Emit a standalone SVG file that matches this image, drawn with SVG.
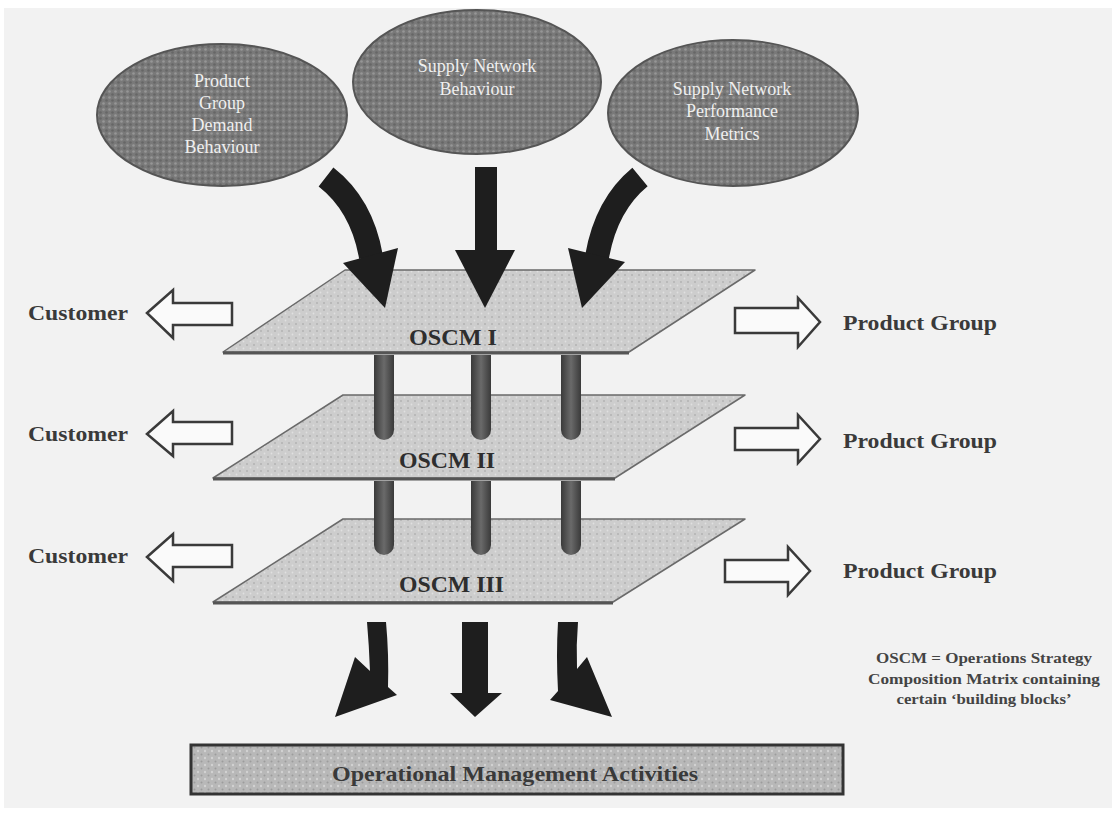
<svg xmlns="http://www.w3.org/2000/svg" width="1117" height="814" viewBox="0 0 1117 814">
  <defs>
    <pattern id="dotsDark" width="6" height="6" patternUnits="userSpaceOnUse">
      <rect width="6" height="6" fill="#797979"/>
      <circle cx="1.5" cy="1.5" r="1.3" fill="#969696"/>
      <circle cx="4.5" cy="4.5" r="1.3" fill="#666666"/>
    </pattern>
    <pattern id="dotsLight" width="7" height="7" patternUnits="userSpaceOnUse">
      <rect width="7" height="7" fill="#cdcdcd"/>
      <circle cx="2" cy="2" r="1" fill="#b2b2b2"/>
      <circle cx="5.5" cy="5.5" r="0.9" fill="#e0e0e0"/>
    </pattern>
    <pattern id="dotsMid" width="7" height="7" patternUnits="userSpaceOnUse">
      <rect width="7" height="7" fill="#b8b8b8"/>
      <circle cx="2" cy="2" r="1.2" fill="#d2d2d2"/>
      <circle cx="5.5" cy="5.5" r="1" fill="#9c9c9c"/>
    </pattern>
    <linearGradient id="pillar" x1="0" y1="0" x2="1" y2="0">
      <stop offset="0" stop-color="#3a3a3a"/>
      <stop offset="0.5" stop-color="#6a6a6a"/>
      <stop offset="1" stop-color="#3a3a3a"/>
    </linearGradient>
  </defs>
  <style>
    .ell { fill: url(#dotsDark); stroke: #555; stroke-width: 2; }
    .ellText { font-family: "Liberation Serif", "Times New Roman", serif; font-size: 18px; fill: #efefef; text-anchor: middle; }
    .plane { fill: url(#dotsLight); stroke: #6a6a6a; stroke-width: 1.5; stroke-linejoin: round; }
    .shadow { stroke: #555; stroke-width: 3; fill: none; }
    .planeText { font-family: "Liberation Serif", "Times New Roman", serif; font-weight: bold; font-size: 23px; fill: #2e2e2e; }
    .label { font-family: "Liberation Serif", "Times New Roman", serif; font-weight: bold; font-size: 22px; fill: #3a3a3a; }
    .hollow { fill: #fafafa; stroke: #3a3a3a; stroke-width: 2.5; stroke-linejoin: miter; }
    .solid { fill: #1e1e1e; }
    .shaft { fill: none; stroke: #1e1e1e; stroke-width: 24; }
    .pil { fill: url(#pillar); }
    .legend { font-family: "Liberation Serif", "Times New Roman", serif; font-weight: bold; font-size: 15px; fill: #444; text-anchor: middle; }
  </style>

  <rect x="0" y="0" width="1117" height="814" fill="#ffffff"/>
  <rect x="4" y="8" width="1108" height="800" fill="#f2f2f2"/>

  <g id="node-product-group-demand">
    <ellipse class="ell" cx="222" cy="115" rx="125" ry="71"/>
    <text class="ellText" x="222" y="87">Product</text>
    <text class="ellText" x="222" y="109">Group</text>
    <text class="ellText" x="222" y="131">Demand</text>
    <text class="ellText" x="222" y="153">Behaviour</text>
  </g>
  <g id="node-supply-network-behaviour">
    <ellipse class="ell" cx="477" cy="82" rx="124" ry="72"/>
    <text class="ellText" x="477" y="72">Supply Network</text>
    <text class="ellText" x="477" y="95">Behaviour</text>
  </g>
  <g id="node-supply-network-performance">
    <ellipse class="ell" cx="733" cy="113" rx="125" ry="73"/>
    <text class="ellText" x="732" y="95">Supply Network</text>
    <text class="ellText" x="732" y="117">Performance</text>
    <text class="ellText" x="732" y="140">Metrics</text>
  </g>

  <g id="node-oscm-3">
    <polygon class="plane" points="343,519 745,519 613,602 213,602"/>
    <line class="shadow" x1="213" y1="603" x2="613" y2="603"/>
    <text class="planeText" x="399" y="592" textLength="105" lengthAdjust="spacingAndGlyphs">OSCM III</text>
  </g>
  <g id="node-oscm-2">
    <polygon class="plane" points="343,395 745,395 615,478 213,478"/>
    <line class="shadow" x1="213" y1="479" x2="615" y2="479"/>
    <text class="planeText" x="399" y="468" textLength="96" lengthAdjust="spacingAndGlyphs">OSCM II</text>
  </g>
  <g id="node-oscm-1">
    <polygon class="plane" points="345,270 755,270 629,352 223,352"/>
    <line class="shadow" x1="223" y1="353" x2="629" y2="353"/>
    <text class="planeText" x="409" y="345" textLength="88" lengthAdjust="spacingAndGlyphs">OSCM I</text>
  </g>

  <g id="node-operational">
    <rect x="191" y="745" width="652" height="49" fill="url(#dotsMid)" stroke="#333" stroke-width="3"/>
    <text class="label" x="332" y="781" font-size="21" textLength="366" lengthAdjust="spacingAndGlyphs" fill="#2a2a2a">Operational Management Activities</text>
  </g>

  <g id="node-customer-labels">
    <text class="label" x="28" y="320" textLength="100" lengthAdjust="spacingAndGlyphs">Customer</text>
    <text class="label" x="28" y="441" textLength="100" lengthAdjust="spacingAndGlyphs">Customer</text>
    <text class="label" x="28" y="563" textLength="100" lengthAdjust="spacingAndGlyphs">Customer</text>
  </g>
  <g id="node-product-labels">
    <text class="label" x="843" y="330" textLength="154" lengthAdjust="spacingAndGlyphs">Product Group</text>
    <text class="label" x="843" y="448" textLength="154" lengthAdjust="spacingAndGlyphs">Product Group</text>
    <text class="label" x="843" y="578" textLength="154" lengthAdjust="spacingAndGlyphs">Product Group</text>
  </g>

  <g id="node-legend">
    <text class="legend" x="984" y="663" textLength="216" lengthAdjust="spacingAndGlyphs">OSCM = Operations Strategy</text>
    <text class="legend" x="984" y="684" textLength="232" lengthAdjust="spacingAndGlyphs">Composition Matrix containing</text>
    <text class="legend" x="984" y="704" textLength="175" lengthAdjust="spacingAndGlyphs">certain ‘building blocks’</text>
  </g>

  <g id="connectors">
    <path class="pil" d="M374,355 V430 A10,10 0 0 0 394,430 V355 Z"/>
    <path class="pil" d="M471,355 V430 A10,10 0 0 0 491,430 V355 Z"/>
    <path class="pil" d="M561,355 V430 A10,10 0 0 0 581,430 V355 Z"/>
    <path class="pil" d="M374,481 V545 A10,10 0 0 0 394,545 V481 Z"/>
    <path class="pil" d="M471,481 V545 A10,10 0 0 0 491,545 V481 Z"/>
    <path class="pil" d="M561,481 V545 A10,10 0 0 0 581,545 V481 Z"/>

    <path class="shaft" d="M326,177 Q362,205 371,257"/>
    <polygon class="solid" points="343,263 398,248 385,308"/>
    <rect class="solid" x="475" y="167" width="22" height="86"/>
    <polygon class="solid" points="455,250 515,250 485,308"/>
    <path class="shaft" d="M640,177 Q606,205 597,257"/>
    <polygon class="solid" points="568,248 625,262 582,308"/>

    <path class="solid" d="M367,622 L386,622 Q389,655 388,687 L397,695 L335,717 L355,657 L370,671 Q369,645 367,622 Z"/>
    <rect class="solid" x="462" y="622" width="26" height="72"/>
    <polygon class="solid" points="450,693 502,693 475,717"/>
    <path class="solid" d="M558,622 L578,622 Q576,645 577,669 L587,657 L612,717 L550,700 L558,691 Q556,655 558,622 Z"/>

    <polygon class="hollow" points="147,313 173,290 173,303 232,303 232,325 173,325 173,338"/>
    <polygon class="hollow" points="147,434 173,411 173,422 232,422 232,444 173,444 173,456"/>
    <polygon class="hollow" points="147,557 173,534 173,545 232,545 232,567 173,567 173,581"/>

    <polygon class="hollow" points="735,308 798,308 798,298 820,322 798,347 798,333 735,333"/>
    <polygon class="hollow" points="735,428 798,428 798,415 820,439 798,463 798,450 735,450"/>
    <polygon class="hollow" points="725,560 788,560 788,547 810,571 788,595 788,582 725,582"/>
  </g>
</svg>
